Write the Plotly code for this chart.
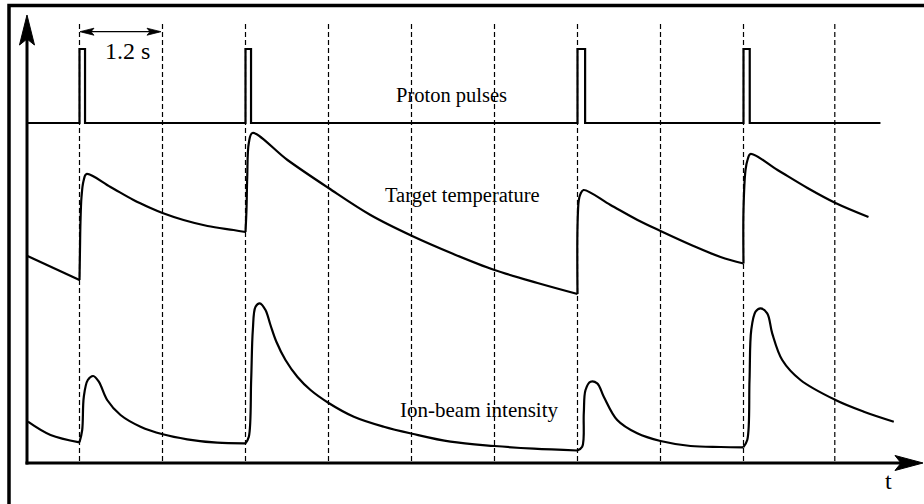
import plotly.graph_objects as go

# ---------------- data (time in s, signals in arbitrary units) ----------------
pulse_t = [-0.752, 0.0, 0.08, 2.4, 2.48, 7.2, 7.31, 9.6, 9.69, 11.58]
pulse_v = [34.0, 41.4, 34.0, 41.4, 34.0, 41.4, 34.0, 41.4, 34.0, 34.0]

temp_t = [-0.752, 0.0, 0.007, 0.014, 0.029, 0.058, 0.101, 0.448, 0.781, 1.027, 1.2,
          1.504, 1.851, 2.227, 2.4, 2.414, 2.425, 2.448, 2.501, 3.007, 3.6, 4.207,
          4.81, 5.407, 6.0, 6.622, 7.2, 7.2, 7.219, 7.243, 7.287, 7.677, 8.068, 8.4,
          8.877, 9.268, 9.6, 9.6, 9.629, 9.658, 9.701, 10.092, 10.525, 10.93, 11.407]
temp_v = [20.7, 18.3, 21.3, 24.1, 26.6, 28.2, 28.9, 27.6, 26.3, 25.5, 25.0,
          24.3, 23.7, 23.3, 23.1, 25.3, 28.6, 32.0, 33.0, 30.3, 27.5, 24.8,
          22.7, 20.9, 19.3, 18.0, 16.9, 23.6, 26.3, 26.9, 27.3, 25.8, 24.3, 23.2,
          21.7, 20.6, 19.95, 25.3, 29.3, 30.3, 30.9, 29.3, 27.5, 26.0, 24.6]

int_t = [-0.745, -0.419, 0.0, 0.039, 0.062, 0.12, 0.198, 0.279, 0.4, 0.593, 0.882,
         1.204, 1.557, 1.991, 2.4, 2.448, 2.482, 2.506, 2.545, 2.607, 2.689, 2.761,
         2.848, 2.978, 3.152, 3.34, 3.596, 3.966, 4.4, 4.81, 5.364, 6.0, 6.568, 7.196,
         7.268, 7.291, 7.316, 7.388, 7.485, 7.58, 7.774, 8.063, 8.4, 8.834, 9.268,
         9.596, 9.654, 9.687, 9.712, 9.774, 9.846, 9.943, 10.015, 10.16, 10.424,
         10.93, 11.34, 11.773]
int_v = [4.13, 2.8, 2.07, 3.3, 6.6, 8.3, 8.7, 8.13, 6.3, 4.8, 3.63,
         2.87, 2.37, 2.03, 1.97, 2.63, 8.3, 13.3, 15.63, 15.97, 15.3, 13.8,
         12.1, 10.3, 8.6, 7.3, 6.03, 4.63, 3.63, 2.93, 2.13, 1.7, 1.43, 1.25,
         1.63, 4.97, 7.3, 8.13, 7.97, 6.63, 4.3, 2.97, 2.2, 1.7, 1.6,
         1.57, 2.3, 8.3, 13.3, 15.13, 15.47, 14.97, 12.97, 10.3, 8.3,
         6.3, 5.13, 4.13]

grid_t = [0.0, 1.2, 2.4, 3.6, 4.8, 6.0, 7.2, 8.4, 9.6, 10.92]

labels = ["Proton pulses", "Target temperature", "Ion-beam intensity"]
period_label = "1.2 s"
axis_label = "t"

# ---------------- figure ----------------
W, H = 924, 504
FONT = "Liberation Serif, Times New Roman, serif"
SEC_PER_PX = 1.2 / 83.0
X0_PX = 79.5          # pixel column of t = 0
XR = [-X0_PX * SEC_PER_PX, (W - X0_PX) * SEC_PER_PX]


def px(x):
    return x / W


def py(y):
    return 1 - y / H


def segments(t, v):
    """Split a curve at its local minima (pulse onsets) so corners stay sharp."""
    cuts = [0]
    for i in range(1, len(v) - 1):
        if v[i] < v[i - 1] and v[i] < v[i + 1]:
            cuts.append(i)
    cuts.append(len(v) - 1)
    return [(t[a:b + 1], v[a:b + 1]) for a, b in zip(cuts[:-1], cuts[1:])]


fig = go.Figure()
line_style = dict(color="black", width=2.2)
fig.add_trace(go.Scatter(x=pulse_t, y=pulse_v, mode="lines", line=dict(line_style, shape="hv"),
                         hoverinfo="skip", showlegend=False))
for tt, vv in segments(temp_t, temp_v) + segments(int_t, int_v):
    fig.add_trace(go.Scatter(x=tt, y=vv, mode="lines",
                             line=dict(line_style, shape="spline", smoothing=1.0),
                             hoverinfo="skip", showlegend=False))

shapes = []
# dashed verticals
for g in grid_t:
    shapes.append(dict(type="line", xref="x", yref="paper", x0=g, x1=g, y0=py(24), y1=py(463),
                       line=dict(color="black", width=1.2, dash="5px,3px"), layer="below"))

# frame
shapes.append(dict(type="rect", xref="paper", yref="paper", x0=px(9), y0=py(5.5), x1=px(940), y1=py(520),
                   line=dict(color="black", width=3.5)))

# axes lines
shapes.append(dict(type="line", xref="paper", yref="paper", x0=px(27), y0=py(464.5), x1=px(27), y1=py(38),
                   line=dict(color="black", width=3)))
shapes.append(dict(type="line", xref="paper", yref="paper", x0=px(25.5), y0=py(463), x1=px(902), y1=py(463),
                   line=dict(color="black", width=3)))


def path(points):
    return "M " + " L ".join(f"{px(a):.5f},{py(b):.5f}" for a, b in points) + " Z"


# arrow heads
shapes.append(dict(type="path", xref="paper", yref="paper",
                   path=path([(27, 15), (19.5, 45), (27, 39), (34.5, 45)]),
                   fillcolor="black", line=dict(color="black", width=1)))
shapes.append(dict(type="path", xref="paper", yref="paper",
                   path=path([(923, 463), (895, 455.5), (901, 463), (895, 470.5)]),
                   fillcolor="black", line=dict(color="black", width=1)))

# 1.2 s dimension arrow
shapes.append(dict(type="line", xref="paper", yref="paper", x0=px(82), y0=py(31.7), x1=px(159), y1=py(31.7),
                   line=dict(color="black", width=1.2)))
shapes.append(dict(type="path", xref="paper", yref="paper",
                   path=path([(80, 31.7), (94, 28.2), (91, 31.7), (94, 35.2)]),
                   fillcolor="black", line=dict(color="black", width=0.8)))
shapes.append(dict(type="path", xref="paper", yref="paper",
                   path=path([(161, 31.7), (147, 28.2), (150, 31.7), (147, 35.2)]),
                   fillcolor="black", line=dict(color="black", width=0.8)))

annotations = [
    dict(text=period_label, xref="paper", yref="paper", x=px(127), y=py(51), showarrow=False,
         font=dict(family=FONT, size=24, color="black"), xanchor="center", yanchor="middle"),
    dict(text=labels[0], xref="paper", yref="paper", x=px(451), y=py(95), showarrow=False,
         font=dict(family=FONT, size=20.5, color="black"), xanchor="center", yanchor="middle"),
    dict(text=labels[1], xref="paper", yref="paper", x=px(462), y=py(196), showarrow=False,
         font=dict(family=FONT, size=20.5, color="black"), xanchor="center", yanchor="middle"),
    dict(text=labels[2], xref="paper", yref="paper", x=px(480), y=py(410), showarrow=False,
         font=dict(family=FONT, size=21, color="black"), xanchor="center", yanchor="middle"),
    dict(text=axis_label, xref="paper", yref="paper", x=px(888), y=py(481), showarrow=False,
         font=dict(family=FONT, size=24, color="black"), xanchor="center", yanchor="middle"),
]

fig.update_layout(
    width=W, height=H,
    margin=dict(l=0, r=0, t=0, b=0),
    paper_bgcolor="white", plot_bgcolor="white",
    xaxis=dict(range=XR, visible=False, showgrid=False, zeroline=False, fixedrange=True),
    yaxis=dict(range=[-4.1, 46.3], visible=False, showgrid=False, zeroline=False, fixedrange=True),
    shapes=shapes,
    annotations=annotations,
    showlegend=False,
)

fig.write_html("out.html", config={"displayModeBar": False})
